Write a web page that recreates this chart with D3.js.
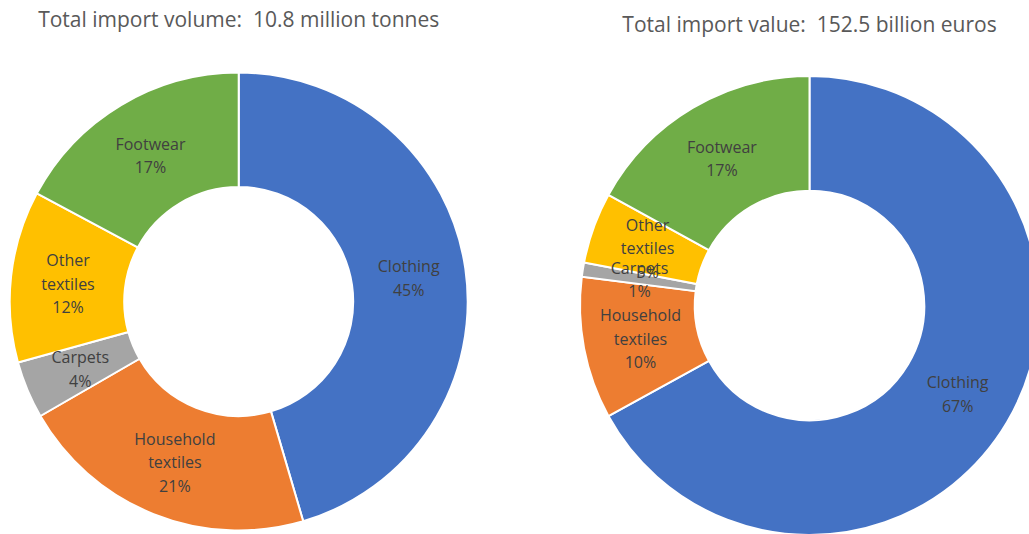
<!DOCTYPE html>
<html>
<head>
<meta charset="utf-8">
<script src="https://cdn.jsdelivr.net/npm/d3@7"></script>
<style>
  html, body { margin: 0; padding: 0; background: #ffffff; }
  svg { display: block; }
  text { font-family: "Open Sans", "Noto Sans", sans-serif; white-space: pre; }
</style>
</head>
<body>
<svg id="chart" width="1029" height="534"></svg>
<script>
// Product groups, in clockwise order from 12 o'clock
const categories = ["Clothing", "Household textiles", "Carpets", "Other textiles", "Footwear"];
// Share of total import volume (%)
const volumeShares = [45, 21, 4, 12, 17];
// Share of total import value (%)
const valueShares = [67, 10, 1, 5, 17];
const titles = [
  "Total import volume:  10.8 million tonnes",
  "Total import value:  152.5 billion euros"
];
const colors = ["#4472C4", "#ED7D31", "#A5A5A5", "#FFC000", "#70AD47"];

const svg = d3.select("#chart");
const color = d3.scaleOrdinal().domain(categories).range(colors);

const panels = [
  { shares: volumeShares, title: titles[0], cx: 238.7, cy: 301.5, r: 229, titleY: 27 },
  { shares: valueShares,  title: titles[1], cx: 809.5, cy: 305.5, r: 229.5, titleY: 31.5 }
];

const pie = d3.pie().sort(null).value(d => d.value);

panels.forEach(p => {
  const data = categories.map((c, i) => ({ category: c, value: p.shares[i] }));
  const arcs = pie(data);
  const inner = p.r * 0.5;
  const arc = d3.arc().innerRadius(inner).outerRadius(p.r);
  const mid = (inner + p.r) / 2;
  const labelArc = d3.arc().innerRadius(mid).outerRadius(mid);

  svg.append("text")
    .attr("x", p.cx)
    .attr("y", p.titleY)
    .attr("text-anchor", "middle")
    .attr("fill", "#595959")
    .attr("font-size", 21)
    .text(p.title);

  const g = svg.append("g").attr("transform", `translate(${p.cx},${p.cy})`);

  g.selectAll("path")
    .data(arcs)
    .join("path")
    .attr("d", arc)
    .attr("fill", d => color(d.data.category))
    .attr("stroke", "#ffffff")
    .attr("stroke-width", 2);

  const lineH = 23.5;
  g.selectAll("text.lbl")
    .data(arcs)
    .join("text")
    .attr("class", "lbl")
    .attr("fill", "#404040")
    .attr("font-size", 16)
    .attr("text-anchor", "middle")
    .each(function (d) {
      const [x, y] = labelArc.centroid(d);
      const lines = d.data.category.split(" ").concat([d.data.value + "%"]);
      const t = d3.select(this);
      const y0 = y - (lines.length - 1) * lineH / 2 + 1.5;
      lines.forEach((ln, k) => {
        t.append("tspan")
          .attr("x", x)
          .attr("y", y0 + k * lineH)
          .attr("dy", "0.35em")
          .text(ln);
      });
    });
});
</script>
</body>
</html>
